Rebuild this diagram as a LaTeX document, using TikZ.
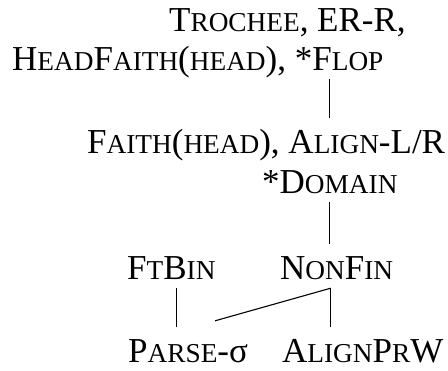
\documentclass[tikz,border=0pt]{standalone}
\usepackage{fontspec}
\setmainfont{Liberation Serif}
\newcommand\lc[1]{{\fontsize{27.3}{30}\selectfont #1}}

\tikzstyle{constraint} = [anchor=base west, inner sep=0pt,
  font=\fontsize{35}{39}\selectfont, text height=24pt, text depth=8pt]
\tikzstyle{bottom} = [constraint, text depth=2pt]
\tikzstyle{rank} = [line width=1.1pt, shorten >=12pt]

\begin{document}
\begin{tikzpicture}[x=1pt,y=-1pt]
        \useasboundingbox (0,0) rectangle (448,371);
        \node [constraint] (trochee)   at (169, 32) {T\lc{ROCHEE}, ER-R,};
        \node [constraint] (headfaith) at ( 12, 71) {H\lc{EAD}F\lc{AITH}(\lc{HEAD}), *F\lc{LOP}};
        \node [constraint] (faith)     at ( 87,154) {F\lc{AITH}(\lc{HEAD}), A\lc{LIGN}-L/R};
        \node [constraint] (domain)    at (262,194) {*D\lc{OMAIN}};
        \node [constraint] (ftbin)     at (127,280) {F\lc{T}B\lc{IN}};
        \node [constraint] (nonfin)    at (280,280) {N\lc{ON}F\lc{IN}};
        \node [bottom]     (parse)     at (128,363) {P\lc{ARSE}-σ};
        \node [bottom]     (alignprw)  at (282,363) {A\lc{LIGN}P\lc{R}W};
        \coordinate (apex) at ([xshift=-6pt]nonfin.south);

        \draw[rank] (headfaith.south -| domain.center) -- (faith.north -| domain.center);
        \draw[rank] (domain.south) -- (nonfin.north -| domain.south);
        \draw[rank] ([xshift=5pt]ftbin.south) -- ([xshift=5pt]ftbin.south |- parse.north);
        \draw[rank] (apex) -- (apex |- alignprw.north);
        \draw[rank,shorten >=0pt] (apex) -- ([xshift=27pt,yshift=18pt]parse.north);
      \end{tikzpicture}
\end{document}
